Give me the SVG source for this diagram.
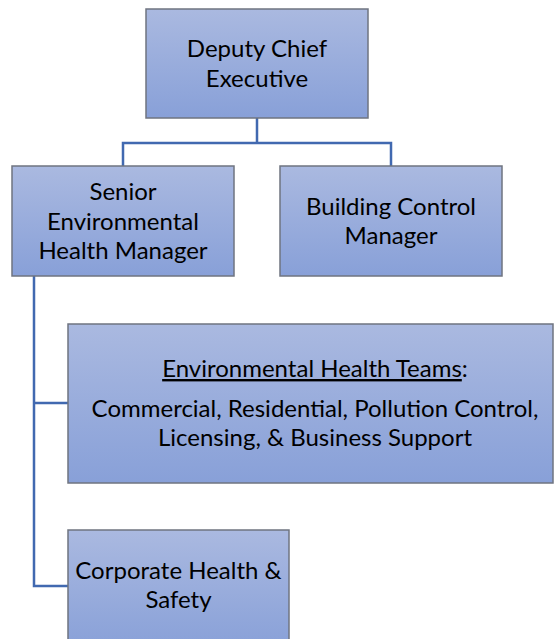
<svg xmlns="http://www.w3.org/2000/svg" width="554" height="639" viewBox="0 0 554 639">
<defs>
<linearGradient id="g" x1="0" y1="0" x2="0" y2="1">
<stop offset="0" stop-color="#aab9e0"/>
<stop offset="1" stop-color="#88a0d8"/>
</linearGradient>
<style>
.box{fill:url(#g);stroke:#6f7480;stroke-width:1.5}
.t{font-family:Lato,"Open Sans",sans-serif;font-size:24px;fill:#000;text-anchor:middle}
.c{fill:none;stroke:#4169b0;stroke-width:2.5}
</style>
</defs>
<g id="connectors">
<path class="c" d="M257,118 V143 M123,166 V143 H391 V166"/>
<path class="c" d="M34,276 V586 H68 M34,403 H68"/>
</g>
<g id="deputy">
<rect class="box" x="146" y="9" width="222" height="109"/>
<text class="t" x="257" y="57">Deputy Chief</text>
<text class="t" x="257" y="87">Executive</text>
</g>
<g id="senior">
<rect class="box" x="12" y="166" width="222" height="110"/>
<text class="t" x="123" y="200">Senior</text>
<text class="t" x="123" y="230">Environmental</text>
<text class="t" x="123" y="259">Health Manager</text>
</g>
<g id="building">
<rect class="box" x="280" y="166" width="222" height="110"/>
<text class="t" x="391" y="215">Building Control</text>
<text class="t" x="391" y="244">Manager</text>
</g>
<g id="ehteams">
<rect class="box" x="68" y="324" width="485" height="159"/>
<text class="t" x="315" y="377"><tspan text-decoration="underline">Environmental Health Teams</tspan>:</text>
<text class="t" x="315" y="417">Commercial, Residential, Pollution Control,</text>
<text class="t" x="315" y="446">Licensing, &amp; Business Support</text>
</g>
<g id="corporate">
<rect class="box" x="68" y="530" width="221" height="120"/>
<text class="t" x="178.5" y="579">Corporate Health &amp;</text>
<text class="t" x="178.5" y="608">Safety</text>
</g>
</svg>
